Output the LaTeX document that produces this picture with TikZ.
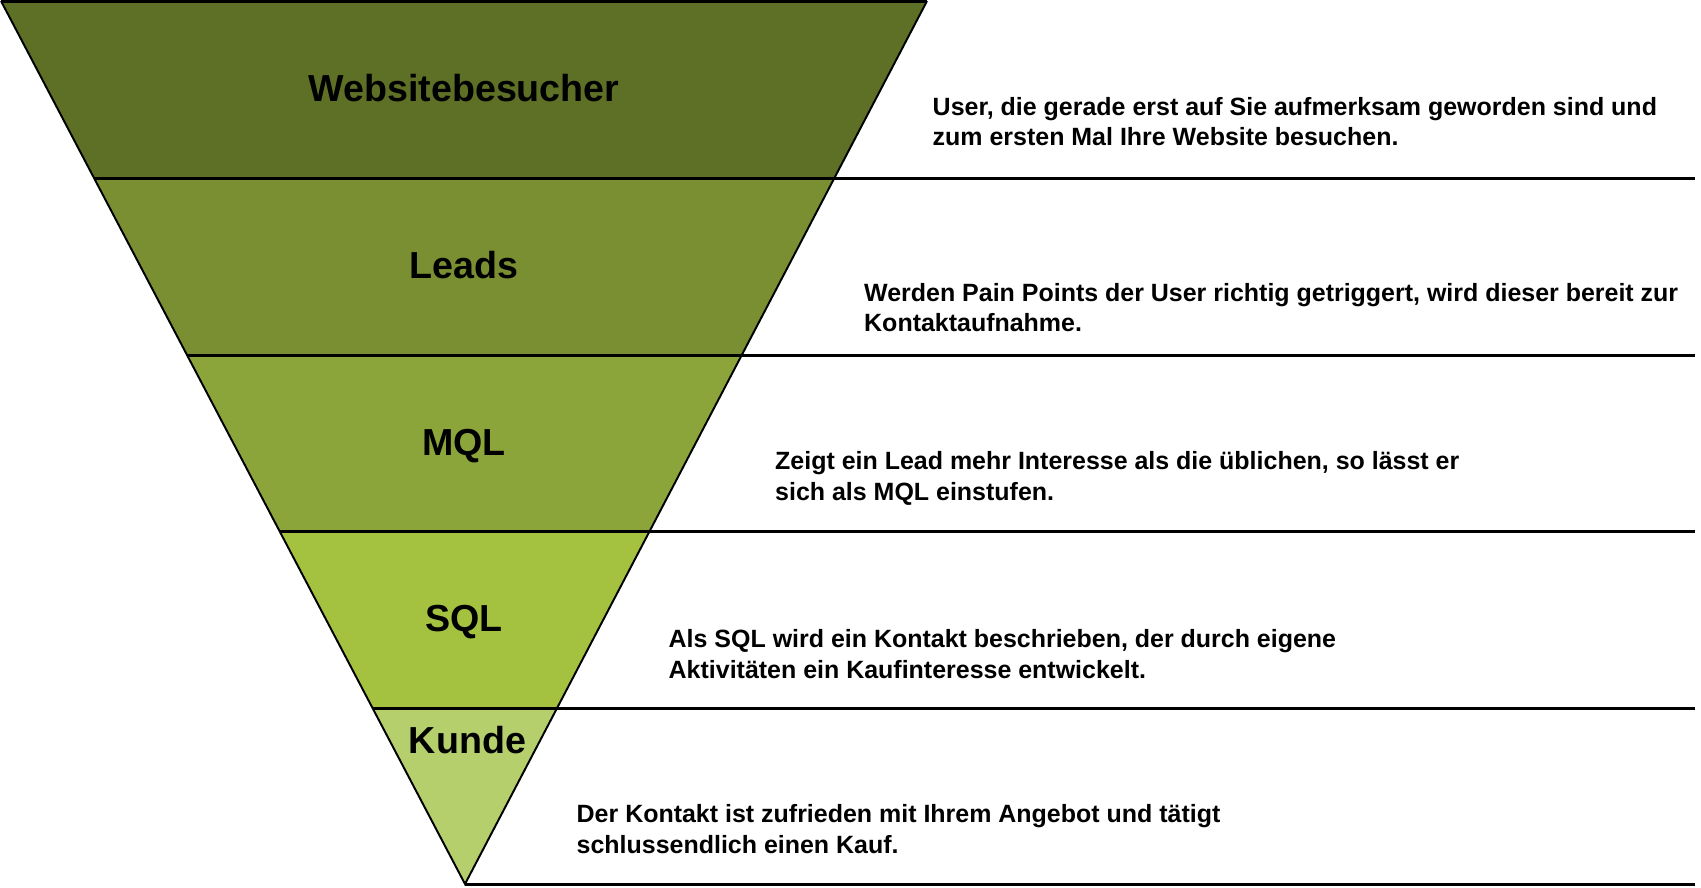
\documentclass[tikz,border=0pt]{standalone}
\usepackage{fontspec}
\setmainfont{Liberation Sans}
\usepackage{xcolor}
\definecolor{bandA}{HTML}{5E7026}
\definecolor{bandB}{HTML}{7A8E32}
\definecolor{bandC}{HTML}{8CA53A}
\definecolor{bandD}{HTML}{A4C240}
\definecolor{bandE}{HTML}{B5CF6C}
\tikzset{
  stage/.style={font=\fontsize{10.7}{12}\selectfont\bfseries,inner sep=0pt},
  descr/.style={font=\fontsize{7.1}{8.65}\selectfont\bfseries,align=left,anchor=west,inner sep=0pt},
  sep/.style={line width=0.85pt},
}
\begin{document}
\begin{tikzpicture}[x=0.01cm,y=-0.01cm,line join=miter]
\useasboundingbox (0,0) rectangle (1701,887);
\coordinate (tl) at (1,1);
\coordinate (tr) at (927,1);
\coordinate (apex) at (465,884);
\coordinate (l1) at (94.4,178);  \coordinate (r1) at (834,178);
\coordinate (l2) at (187.3,355); \coordinate (r2) at (741.5,355);
\coordinate (l3) at (279.7,531); \coordinate (r3) at (649.5,531);
\coordinate (l4) at (372.6,708); \coordinate (r4) at (557,708);
\coordinate (e1) at (1695,178);
\coordinate (e2) at (1695,355);
\coordinate (e3) at (1695,531);
\coordinate (e4) at (1695,708);
\coordinate (e5) at (1695,884);
\fill[bandA] (tl) -- (tr) -- (r1) -- (l1) -- cycle;
\fill[bandB] (l1) -- (r1) -- (r2) -- (l2) -- cycle;
\fill[bandC] (l2) -- (r2) -- (r3) -- (l3) -- cycle;
\fill[bandD] (l3) -- (r3) -- (r4) -- (l4) -- cycle;
\fill[bandE] (l4) -- (r4) -- (apex) -- cycle;
\draw[line width=0.55pt] (tl) -- (apex) -- (tr);
\draw[sep] (tl) -- (tr);
\draw[sep] (l1) -- (e1);
\draw[sep] (l2) -- (e2);
\draw[sep] (l3) -- (e3);
\draw[sep] (l4) -- (e4);
\draw[sep] (apex) -- (e5);
\node[stage] (website) at (464,88) {Websitebesucher};
\node[stage] (leads) at (464,265) {Leads};
\node[stage] (mql) at (464,446) {MQL};
\node[stage] (sql) at (464,622.5) {SQL};
\node[stage] (kunde) at (467.5,740) {Kunde};
\node[descr] (dwebsite) at (932,121.5) {User, die gerade erst auf Sie aufmerksam geworden sind und\\zum ersten Mal Ihre Website besuchen.};
\node[descr] (dleads) at (863.5,307.5) {Werden Pain Points der User richtig getriggert, wird dieser bereit zur\\Kontaktaufnahme.};
\node[descr] (dmql) at (774.5,478.5) {Zeigt ein Lead mehr Interesse als die üblichen, so lässt er\\sich als MQL einstufen.};
\node[descr] (dsql) at (668,654) {Als SQL wird ein Kontakt beschrieben, der durch eigene\\Aktivitäten ein Kaufinteresse entwickelt.};
\node[descr] (dkunde) at (576,829) {Der Kontakt ist zufrieden mit Ihrem Angebot und tätigt\\schlussendlich einen Kauf.};
\end{tikzpicture}
\end{document}
